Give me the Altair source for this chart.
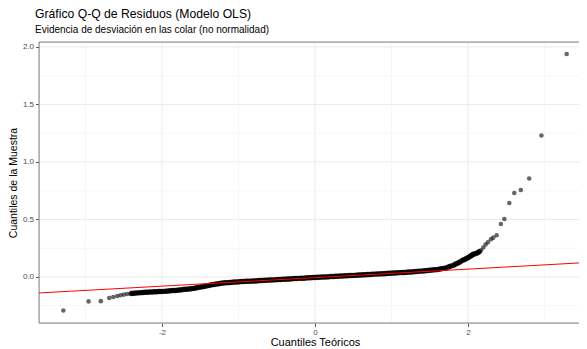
import altair as alt
import pandas as pd

FONT = "Liberation Sans"

# Theoretical quantiles (x) and sample quantiles (y)
teorico = [
    -3.29, -2.96, -2.80, -2.69, -2.637, -2.585, -2.54, -2.497, -2.453,
    -2.40, -2.37, -2.34, -2.31, -2.28, -2.25, -2.22, -2.19, -2.16, -2.13,
    -2.10, -2.07, -2.04, -2.01, -1.98, -1.95, -1.92, -1.89, -1.86, -1.83,
    -1.80, -1.77, -1.74, -1.71, -1.68, -1.65, -1.62, -1.59, -1.56, -1.53,
    -1.50, -1.47, -1.44, -1.41, -1.38, -1.35, -1.32, -1.29, -1.26, -1.23,
    -1.20, -1.17, -1.14, -1.11, -1.08, -1.05, -1.02, -0.99, -0.96, -0.93,
    -0.90, -0.87, -0.84, -0.81, -0.78, -0.75, -0.72, -0.69, -0.66, -0.63,
    -0.60, -0.57, -0.54, -0.51, -0.48, -0.45, -0.42, -0.39, -0.36, -0.33,
    -0.30, -0.27, -0.24, -0.21, -0.18, -0.15, -0.12, -0.09, -0.06, -0.03,
    0.00, 0.03, 0.06, 0.09, 0.12, 0.15, 0.18, 0.21, 0.24, 0.27,
    0.30, 0.33, 0.36, 0.39, 0.42, 0.45, 0.48, 0.51, 0.54, 0.57,
    0.60, 0.63, 0.66, 0.69, 0.72, 0.75, 0.78, 0.81, 0.84, 0.87,
    0.90, 0.93, 0.96, 0.99, 1.02, 1.05, 1.08, 1.11, 1.14, 1.17,
    1.20, 1.23, 1.26, 1.29, 1.32, 1.35, 1.38, 1.41, 1.44, 1.47,
    1.50, 1.53, 1.56, 1.59, 1.62, 1.65, 1.68, 1.71, 1.745, 1.77,
    1.81, 1.84, 1.87, 1.90, 1.93, 1.955, 1.98, 2.005, 2.03, 2.05,
    2.07, 2.095, 2.12, 2.145, 2.17, 2.20, 2.23, 2.26, 2.30, 2.33,
    2.375, 2.43, 2.475, 2.54, 2.605, 2.69, 2.80, 2.96, 3.29,
]
muestra = [
    -0.292, -0.212, -0.210, -0.183, -0.174, -0.165, -0.159, -0.153, -0.148,
    -0.143, -0.141, -0.139, -0.138, -0.136, -0.135, -0.133, -0.132, -0.131, -0.130,
    -0.129, -0.128, -0.127, -0.126, -0.125, -0.123, -0.121, -0.120, -0.118, -0.117,
    -0.115, -0.113, -0.110, -0.107, -0.106, -0.104, -0.102, -0.099, -0.095, -0.092,
    -0.088, -0.084, -0.080, -0.076, -0.072, -0.068, -0.065, -0.061, -0.058, -0.055,
    -0.052, -0.050, -0.049, -0.047, -0.046, -0.044, -0.043, -0.042, -0.040, -0.039,
    -0.038, -0.037, -0.036, -0.035, -0.034, -0.032, -0.031, -0.030, -0.029, -0.028,
    -0.027, -0.026, -0.025, -0.023, -0.022, -0.021, -0.020, -0.019, -0.018, -0.017,
    -0.015, -0.014, -0.013, -0.012, -0.011, -0.010, -0.009, -0.007, -0.006, -0.005,
    -0.004, -0.003, -0.002, -0.001, 0.000, 0.001, 0.002, 0.004, 0.005, 0.006,
    0.007, 0.008, 0.009, 0.010, 0.011, 0.012, 0.013, 0.014, 0.015, 0.017,
    0.018, 0.019, 0.020, 0.021, 0.022, 0.024, 0.025, 0.026, 0.027, 0.028,
    0.029, 0.030, 0.032, 0.033, 0.034, 0.035, 0.036, 0.038, 0.039, 0.040,
    0.042, 0.043, 0.044, 0.046, 0.047, 0.049, 0.051, 0.052, 0.054, 0.056,
    0.058, 0.060, 0.062, 0.064, 0.068, 0.071, 0.075, 0.079, 0.087, 0.094,
    0.102, 0.112, 0.122, 0.133, 0.145, 0.152, 0.160, 0.170, 0.180, 0.190,
    0.197, 0.203, 0.209, 0.220, 0.232, 0.256, 0.282, 0.302, 0.328, 0.342,
    0.363, 0.461, 0.504, 0.644, 0.730, 0.757, 0.856, 1.230, 1.939,
]

# Reference (qq) line endpoints, read at the visible panel edges
linea_x = [-3.608, 3.451]
linea_y = [-0.139, 0.122]

# Axis breaks
x_mayores = [-2, 0, 2]
x_menores = [-3, -1, 1, 3]
y_mayores = [0.0, 0.5, 1.0, 1.5, 2.0]
y_menores = [-0.25, 0.25, 0.75, 1.25, 1.75]

X_DOM = [-3.608, 3.451]
Y_DOM = [-0.40, 2.043]

df = pd.DataFrame({"teorico": teorico, "muestra": muestra})
df_linea = pd.DataFrame({"x": linea_x, "y": linea_y})

xs = alt.Scale(domain=X_DOM, nice=False, zero=False)
ys = alt.Scale(domain=Y_DOM, nice=False, zero=False)

x_axis = alt.Axis(
    values=x_mayores, grid=False, labelExpr="'' + datum.value",
    title="Cuantiles Teóricos", titleFont=FONT, titleFontSize=11, titleFontWeight="normal",
    titleColor="#000000", titleX=276, titleY=22.5, titleAlign="center", titleBaseline="alphabetic",
    labelFont=FONT, labelFontSize=8, labelColor="#4D4D4D", labelPadding=1.5,
    tickColor="#555555", tickSize=3.5, domain=False,
)
y_axis = alt.Axis(
    values=y_mayores, grid=False, format=".1f",
    title="Cuantiles de la Muestra", titleFont=FONT, titleFontSize=10.5, titleFontWeight="normal",
    titleColor="#000000", titleX=-22.5, titleY=140.5, titleAngle=-90, titleAlign="center",
    titleBaseline="alphabetic",
    labelFont=FONT, labelFontSize=8, labelColor="#4D4D4D", labelPadding=2,
    tickColor="#555555", tickSize=3.5, domain=False,
)

grid_x_min = alt.Chart(pd.DataFrame({"v": x_menores})).mark_rule(
    color="#F2F2F2", strokeWidth=0.7
).encode(x=alt.X("v:Q", scale=xs, axis=x_axis))
grid_x_may = alt.Chart(pd.DataFrame({"v": x_mayores})).mark_rule(
    color="#EBEBEB", strokeWidth=1
).encode(x=alt.X("v:Q", scale=xs))
grid_y_min = alt.Chart(pd.DataFrame({"v": y_menores})).mark_rule(
    color="#F2F2F2", strokeWidth=0.7
).encode(y=alt.Y("v:Q", scale=ys, axis=y_axis))
grid_y_may = alt.Chart(pd.DataFrame({"v": y_mayores})).mark_rule(
    color="#EBEBEB", strokeWidth=1
).encode(y=alt.Y("v:Q", scale=ys))

# panel border (left, top, bottom; the right side is cut off in the reference)
borde_v = alt.Chart(pd.DataFrame({"v": [X_DOM[0]]})).mark_rule(
    color="#888888", strokeWidth=1
).encode(x=alt.X("v:Q", scale=xs))
borde_h = alt.Chart(pd.DataFrame({"v": Y_DOM})).mark_rule(
    color="#888888", strokeWidth=1
).encode(y=alt.Y("v:Q", scale=ys))

denso = "datum.teorico > -2.42 && datum.teorico < 2.16"
puntos = alt.Chart(df).mark_circle(color="#000000").encode(
    x=alt.X("teorico:Q", scale=xs),
    y=alt.Y("muestra:Q", scale=ys),
    opacity=alt.condition(denso, alt.value(0.9), alt.value(0.6)),
    size=alt.condition(denso, alt.value(30), alt.value(21)),
)

linea = alt.Chart(df_linea).mark_line(color="#FF0000", strokeWidth=1, clip=True).encode(
    x=alt.X("x:Q", scale=xs),
    y=alt.Y("y:Q", scale=ys),
)

chart = alt.layer(
    grid_x_min, grid_x_may, grid_y_min, grid_y_may, borde_v, borde_h, puntos, linea
).properties(
    width=540,
    height=281,
    title=alt.Title(
        "Gráfico Q-Q de Residuos (Modelo OLS)",
        subtitle="Evidencia de desviación en las colar (no normalidad)",
        anchor="start", frame="group", font=FONT, fontSize=12.2, fontWeight="normal",
        color="#000000", subtitleFont=FONT, subtitleFontSize=10, subtitleColor="#000000",
        subtitlePadding=4, dx=-4, offset=7,
    ),
    autosize=alt.AutoSizeParams(type="none"),
    padding={"left": 31, "top": 34, "right": 0, "bottom": 24},
).configure_view(
    stroke=None
).configure(background="#FFFFFF")

chart.save("out.html", embed_options={"renderer": "svg", "actions": False})
